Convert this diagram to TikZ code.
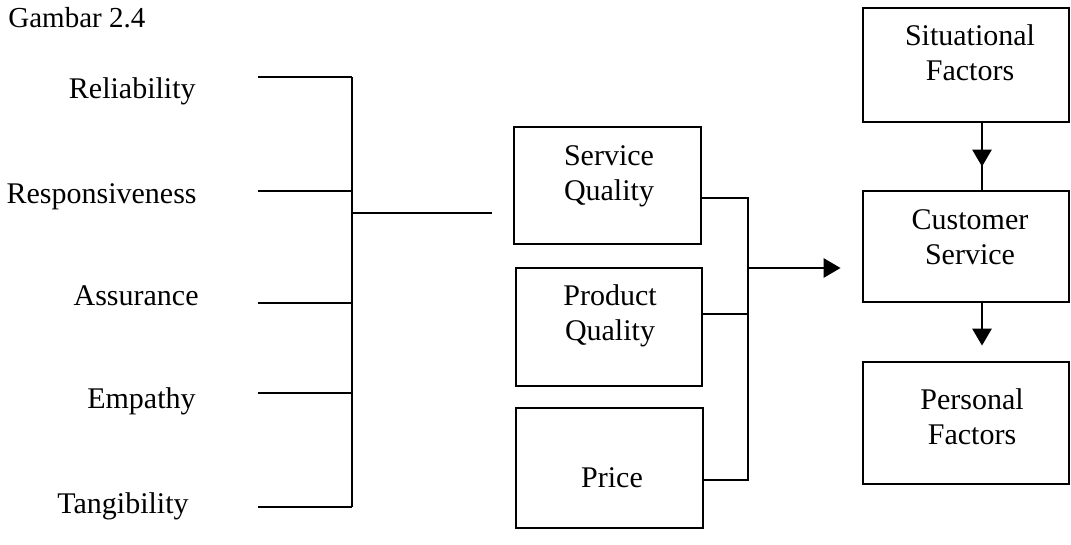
\documentclass[tikz,border=0pt]{standalone}
\usepackage{fontspec}
\setmainfont{Liberation Serif}
\usetikzlibrary{arrows.meta,calc}
\begin{document}
\begin{tikzpicture}[x=1pt,y=-1pt,
  line width=2.8pt,
  box/.style={draw, line width=2.8pt, inner sep=0pt},
  lbl/.style={font=\fontsize{30}{35}\selectfont, inner sep=0pt, anchor=base east},
  txt/.style={font=\fontsize{30}{35}\selectfont, align=center, inner sep=0pt},
  tip/.style={-{Triangle[length=17pt,width=19pt]}}]
\useasboundingbox (0,0) rectangle (1071,544);

% title
\node[font=\fontsize{29}{34}\selectfont, inner sep=0pt, anchor=base west] (title) at (7,27) {Gambar 2.4};

% dimension labels
\node[lbl] (rel) at (197,98) {Reliability};
\node[lbl] (resp) at (198,203) {Responsiveness};
\node[lbl] (ass) at (200,305) {Assurance};
\node[lbl] (emp) at (197,408) {Empathy};
\node[lbl] (tan) at (190,513) {Tangibility};

% bracket
\coordinate (l1) at (258,77);
\coordinate (l2) at (258,191);
\coordinate (l3) at (258,303);
\coordinate (l4) at (258,393);
\coordinate (l5) at (258,507);
\coordinate (vx) at (352,0);
\coordinate (b) at (352,213);
\coordinate (bend) at (492,213);
\draw (l1) -- (l1 -| vx);
\draw (l2) -- (l2 -| vx);
\draw (l3) -- (l3 -| vx);
\draw (l4) -- (l4 -| vx);
\draw (l5) -- (l5 -| vx);
\draw (l1 -| vx) -- (l5 -| vx);
\draw (b) -- (bend);

% middle boxes
\node[box, minimum width=187pt, minimum height=117pt] (sq) at (607.5,185.5) {};
\node[box, minimum width=186pt, minimum height=118pt] (pq) at (609,327) {};
\node[box, minimum width=187pt, minimum height=120pt] (pr) at (609.5,468) {};
\node[txt] (sqt) at (609,176) {Service\\Quality};
\node[txt] (pqt) at (610,316) {Product\\Quality};
\node[txt] (prt) at (612,478) {Price};

% right boxes
\node[box, minimum width=206pt, minimum height=114pt] (sit) at (966,65) {};
\node[box, minimum width=206pt, minimum height=111pt] (cust) at (966,246.5) {};
\node[box, minimum width=206pt, minimum height=122pt] (pers) at (966,423) {};
\node[txt] (sitt) at (970,53) {Situational\\Factors};
\node[txt] (custt) at (970,237) {Customer\\Service};
\node[txt] (perst) at (972,417) {Personal\\Factors};

% merging connectors
\coordinate (j) at (748,268);
\draw ([yshift=-12.5pt]sq.east) -| (j);
\draw ([yshift=13pt]pq.east) -| (j);
\draw ([yshift=-12pt]pr.east) -| (j);
\draw[tip, shorten >=21pt] (j) -- (cust.west |- j);

% vertical arrows
\coordinate (ax) at (982,0);
\draw (sit.south -| ax) -- (cust.north -| ax);
\draw[tip, shorten >=23pt] (sit.south -| ax) -- (cust.north -| ax);
\draw[tip, shorten >=15pt] (cust.south -| ax) -- (pers.north -| ax);
\end{tikzpicture}
\end{document}
